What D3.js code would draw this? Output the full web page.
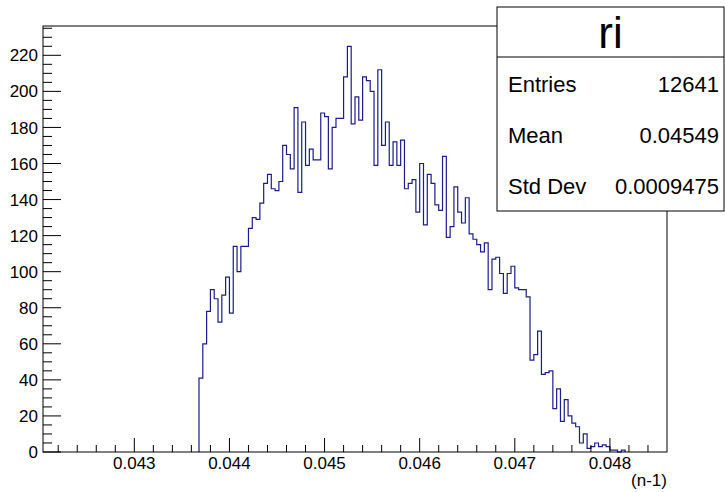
<!DOCTYPE html>
<html>
<head>
<meta charset="utf-8">
<script src="https://cdn.jsdelivr.net/npm/d3@7"></script>
<style>
  body { margin: 0; background: #fff; }
  svg { display: block; font-family: "Liberation Sans", Arial, Helvetica, sans-serif; }
</style>
</head>
<body>
<svg id="chart" width="725" height="492"></svg>
<script>
// histogram binning (ROOT style, fixed width bins)
const xMin = 0.04204;
const xMax = 0.04860;
const binWidth = 0.00004;
const firstEdge = 0.04368; // low edge of first filled bin

// counts per bin, starting at firstEdge
const counts = [
  41, 60, 78, 90, 85, 72, 87, 97, 77, 114,
  100, 114, 114, 124, 130, 129, 138, 149, 154, 146,
  145, 150, 170, 165, 157, 191, 144, 183, 159, 168,
  162, 162, 188, 186, 157, 180, 185, 185, 208, 225,
  182, 197, 184, 208, 206, 200, 159, 212, 170, 183,
  159, 172, 159, 173, 146, 149, 151, 133, 160, 126,
  154, 149, 137, 134, 164, 119, 125, 147, 133, 127,
  141, 121, 118, 115, 111, 116, 90, 107, 108, 99,
  88, 99, 103, 91, 90, 90, 86, 51, 54, 67,
  43, 44, 45, 24, 35, 17, 29, 20, 16, 14,
  5, 10, 2, 3, 5, 3, 4, 3, 1, 1,
  0, 1
];

const xTicks = [0.043, 0.044, 0.045, 0.046, 0.047, 0.048];
const yTicks = [0, 20, 40, 60, 80, 100, 120, 140, 160, 180, 200, 220];

const histName = "ri";
const statLabels = ["Entries", "Mean", "Std Dev"];
const statValues = ["12641", "0.04549", "0.0009475"];
const xTitle = "(n-1)";

const svg = d3.select("#chart");
const margin = { top: 26, right: 58, bottom: 40, left: 43 };
const W = 725, H = 492;
const plotW = W - margin.left - margin.right;
const plotH = H - margin.top - margin.bottom;

const x = d3.scaleLinear().domain([xMin, xMax]).range([margin.left, margin.left + plotW]);
const yMax = d3.max(counts) * 1.05;
const y = d3.scaleLinear().domain([0, yMax]).range([margin.top + plotH, margin.top]);

const bins = counts.map((c, i) => ({ x0: firstEdge + i * binWidth, x1: firstEdge + (i + 1) * binWidth, c }));

// step outline
let pts = [[x(bins[0].x0), y(0)]];
bins.forEach(b => {
  pts.push([x(b.x0), y(b.c)]);
  pts.push([x(b.x1), y(b.c)]);
});
pts.push([x(bins[bins.length - 1].x1), y(0)]);

svg.append("path")
  .attr("d", d3.line()(pts))
  .attr("fill", "none")
  .attr("stroke", "#1c1c8c")
  .attr("stroke-width", 1.2);

// axes, ROOT ticks drawn inward
const gx = svg.append("g").attr("transform", `translate(0,${margin.top + plotH})`);
const xMinor = d3.range(0, 34).map(i => 0.0422 + i * 0.0002).filter(v => v > xMin && v < xMax);
gx.selectAll(".minor").data(xMinor).join("line")
  .attr("x1", d => x(d)).attr("x2", d => x(d))
  .attr("y1", 0).attr("y2", d => xTicks.some(t => Math.abs(t - d) < 1e-9) ? -14 : -7)
  .attr("stroke", "#000");
gx.selectAll("text").data(xTicks).join("text")
  .attr("x", d => x(d)).attr("y", 17)
  .attr("text-anchor", "middle")
  .style("font-size", "17px")
  .text(d => d3.format(".3f")(d));

const gy = svg.append("g").attr("transform", `translate(${margin.left},0)`);
const yMinor = d3.range(0, yMax, 5);
gy.selectAll("line").data(yMinor).join("line")
  .attr("y1", d => y(d)).attr("y2", d => y(d))
  .attr("x1", 0).attr("x2", d => d % 20 === 0 ? 18 : 9)
  .attr("stroke", "#000");
gy.selectAll("text").data(yTicks).join("text")
  .attr("x", -5).attr("y", d => y(d)).attr("dy", "0.36em")
  .attr("text-anchor", "end")
  .style("font-size", "17px")
  .text(d => d);

// frame
svg.append("rect")
  .attr("x", margin.left).attr("y", margin.top)
  .attr("width", plotW).attr("height", plotH)
  .attr("fill", "none").attr("stroke", "#000");

svg.append("text")
  .attr("x", margin.left + plotW).attr("y", 486)
  .attr("text-anchor", "end")
  .style("font-size", "17px")
  .text(xTitle);

// stats box
const box = { x: 497, y: 7, w: 227, h: 204, head: 50 };
const gs = svg.append("g");
gs.append("rect")
  .attr("x", box.x).attr("y", box.y).attr("width", box.w).attr("height", box.h)
  .attr("fill", "#fff").attr("stroke", "#000");
gs.append("line")
  .attr("x1", box.x).attr("x2", box.x + box.w)
  .attr("y1", box.y + box.head).attr("y2", box.y + box.head)
  .attr("stroke", "#000");
gs.append("text")
  .attr("x", box.x + box.w / 2).attr("y", 48)
  .attr("text-anchor", "middle")
  .style("font-size", "44px")
  .text(histName);
const rowY = [92, 143, 194];
gs.selectAll(".lab").data(statLabels).join("text")
  .attr("class", "lab")
  .attr("x", 508).attr("y", (d, i) => rowY[i])
  .style("font-size", "22px")
  .text(d => d);
gs.selectAll(".val").data(statValues).join("text")
  .attr("class", "val")
  .attr("x", 719).attr("y", (d, i) => rowY[i])
  .attr("text-anchor", "end")
  .style("font-size", "22px")
  .text(d => d);
</script>
</body>
</html>
